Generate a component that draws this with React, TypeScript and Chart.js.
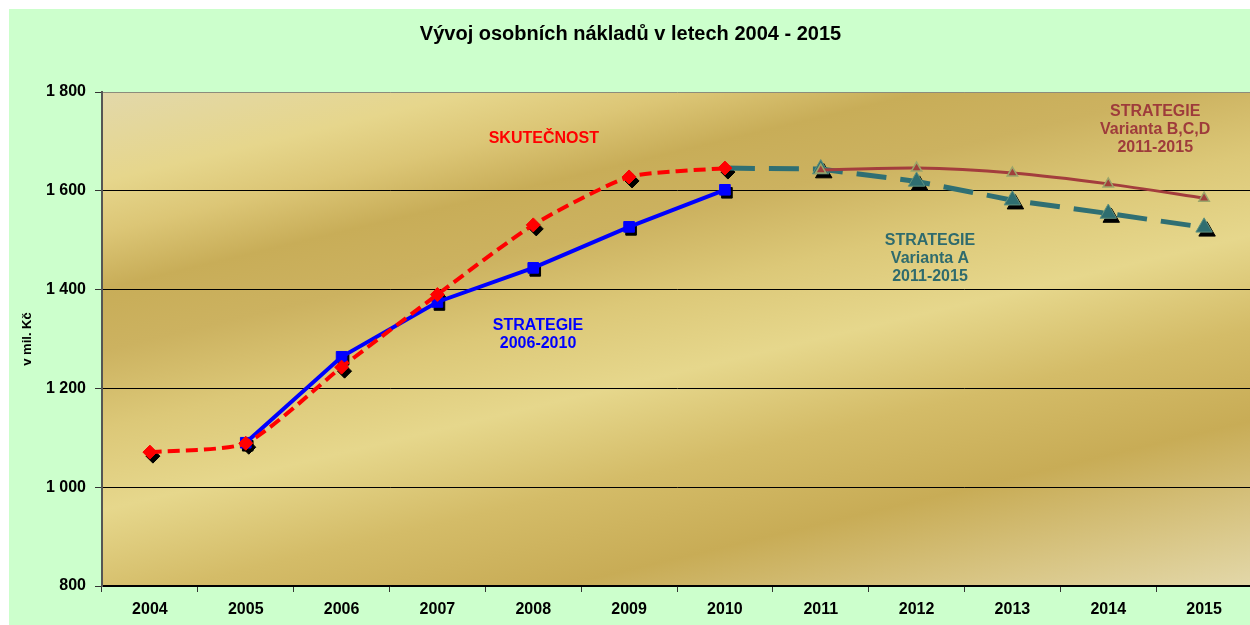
import React, { useEffect, useRef } from "react";
import { Chart, registerables } from "chart.js";

Chart.register(...registerables);

// ---- data ----
const years = ["2004", "2005", "2006", "2007", "2008", "2009", "2010", "2011", "2012", "2013", "2014", "2015"];
const skutecnost = [1071, 1089, 1243, 1390, 1531, 1628, 1646, null, null, null, null, null];
const strategie2006 = [null, 1090, 1264, 1375, 1444, 1527, 1602, null, null, null, null, null];
const variantaA = [null, null, null, null, null, null, 1646, 1644, 1619, 1581, 1554, 1526];
const variantaBCD = [null, null, null, null, null, null, null, 1642, 1646, 1636, 1614, 1585];

const yMin = 800;
const yMax = 1800;
const yStep = 200;

const titleText = "Vývoj osobních nákladů v letech 2004 - 2015";
const yTitleText = "v mil. Kč";

const labelSkut = ["SKUTEČNOST"];
const labelStrat = ["STRATEGIE", "2006-2010"];
const labelVarA = ["STRATEGIE", "Varianta A", "2011-2015"];
const labelVarBCD = ["STRATEGIE", "Varianta B,C,D", "2011-2015"];

// Varianta A continues from the last actual year without its own marker there
const variantaAJoinYear = "2010";

// ---- styling / placement (not data) ----
const FONT = "'Liberation Sans', Arial, sans-serif";
const notes = [
  { lines: labelSkut, color: "#FF0000", cx: 4.11, cy: 1705 },
  { lines: labelStrat, color: "#0000FF", cx: 4.05, cy: 1328 },
  { lines: labelVarA, color: "#2F6B6D", cx: 8.14, cy: 1500 },
  { lines: labelVarBCD, color: "#9E3B3B", cx: 10.49, cy: 1760 },
];

const fmt = (v: number) =>
  v >= 1000 ? `${Math.floor(v / 1000)} ${String(v % 1000).padStart(3, "0")}` : String(v);

const backgroundPlugin = {
  id: "bgPlot",
  beforeDraw(chart: any) {
    const { ctx, chartArea, width, height } = chart;
    ctx.save();
    ctx.fillStyle = "#CCFFCC";
    ctx.fillRect(0, 0, width, height);
    const { left, top, right, bottom } = chartArea;
    const g = ctx.createLinearGradient(left, top, left + 174.5, top + 728.8);
    g.addColorStop(0, "#E2D8AA");
    g.addColorStop(0.116, "#E6D68C");
    g.addColorStop(0.183, "#DCC676");
    g.addColorStop(0.256, "#C8AD58");
    g.addColorStop(0.336, "#CCB260");
    g.addColorStop(0.437, "#DCC878");
    g.addColorStop(0.543, "#E6D78C");
    g.addColorStop(0.664, "#D4BC68");
    g.addColorStop(0.784, "#C8AC56");
    g.addColorStop(0.904, "#D8C584");
    g.addColorStop(1, "#E3D8AA");
    ctx.fillStyle = g;
    ctx.fillRect(left, top, right - left, bottom - top);
    ctx.restore();
  },
};

const shadowPlugin = {
  id: "markerShadow",
  beforeDatasetDraw(chart: any, args: any) {
    const ds: any = chart.data.datasets[args.index];
    if (ds.shadowDx !== undefined) {
      chart.ctx.save();
      chart.ctx.translate(ds.shadowDx, ds.shadowDy);
    }
  },
  afterDatasetDraw(chart: any, args: any) {
    const ds: any = chart.data.datasets[args.index];
    if (ds.shadowDx !== undefined) chart.ctx.restore();
  },
};

const notesPlugin = {
  id: "notes",
  afterDatasetsDraw(chart: any) {
    const { ctx, scales } = chart;
    ctx.save();
    ctx.font = `bold 16px ${FONT}`;
    ctx.textAlign = "center";
    ctx.textBaseline = "middle";
    for (const n of notes) {
      const x = scales.x.getPixelForValue(n.cx);
      const y = scales.y.getPixelForValue(n.cy);
      ctx.fillStyle = n.color;
      n.lines.forEach((t, i) => ctx.fillText(t, x, y + i * 18));
    }
    ctx.restore();
  },
};

export default function App() {
  const ref = useRef<HTMLCanvasElement | null>(null);

  useEffect(() => {
    if (!ref.current) return;
    const joinIdx = years.indexOf(variantaAJoinYear);
    const radiusA = (r: number) => (c: any) => (c.dataIndex <= joinIdx ? 0 : r);

    const shadow = (data: any[], style: string, radius: any, dx: number, dy: number) => ({
      data,
      showLine: false,
      pointStyle: style,
      pointRadius: radius,
      pointBackgroundColor: "#000",
      pointBorderColor: "#000",
      pointBorderWidth: 1,
      borderColor: "#000",
      backgroundColor: "#000",
      order: 20,
      shadowDx: dx,
      shadowDy: dy,
    });

    const chart = new Chart(ref.current, {
      type: "line",
      data: {
        labels: years,
        datasets: [
          shadow(skutecnost, "rectRot", 7, 3, 4) as any,
          shadow(strategie2006, "rect", 7.5, 2, 3) as any,
          shadow(variantaA, "triangle", radiusA(9.5), 3, 4) as any,
          {
            label: "Varianta A",
            data: variantaA,
            borderColor: "#2F6F73",
            borderWidth: 5,
            borderDash: [30, 14],
            pointStyle: "triangle",
            pointRadius: radiusA(9.5),
            pointBackgroundColor: "#2F6E70",
            pointBorderColor: "#5F917E",
            pointBorderWidth: 1,
            tension: 0,
            order: 4,
          } as any,
          {
            label: "Strategie 2006-2010",
            data: strategie2006,
            borderColor: "#0000FF",
            borderWidth: 4,
            pointStyle: "rect",
            pointRadius: 7.5,
            pointBackgroundColor: "#0000FF",
            pointBorderColor: "#0000FF",
            pointBorderWidth: 1,
            tension: 0,
            order: 3,
          },
          {
            label: "Skutečnost",
            data: skutecnost,
            borderColor: "#FF0000",
            borderWidth: 4,
            borderDash: [12, 6],
            pointStyle: "rectRot",
            pointRadius: 7,
            pointBackgroundColor: "#FF0000",
            pointBorderColor: "#FF0000",
            pointBorderWidth: 1,
            tension: 0.2,
            order: 2,
          },
          {
            label: "Varianta B,C,D",
            data: variantaBCD,
            borderColor: "#A33D3D",
            borderWidth: 3,
            pointStyle: "triangle",
            pointRadius: 6,
            pointBackgroundColor: "#A0403C",
            pointBorderColor: "#9BA56A",
            pointBorderWidth: 1.5,
            tension: 0.25,
            order: 1,
          },
        ],
      },
      options: {
        responsive: false,
        animation: false,
        devicePixelRatio: 1,
        layout: { padding: { left: 0, right: 17, top: 0, bottom: 0 } },
        plugins: {
          legend: { display: false },
          tooltip: { enabled: false },
          title: {
            display: true,
            text: titleText,
            color: "#000",
            font: { family: FONT, size: 20, weight: "bold" },
            padding: { top: 13, bottom: 46 },
          },
        },
        scales: {
          x: {
            type: "category",
            offset: true,
            grid: {
              offset: true,
              drawOnChartArea: false,
              drawTicks: true,
              tickLength: 6,
              color: "#333",
            },
            border: { display: true, color: "#000", width: 1.5 },
            ticks: {
              color: "#000",
              font: { family: FONT, size: 16, weight: "bold" },
              padding: 8,
              maxRotation: 0,
              autoSkip: false,
            },
            afterFit: (s: any) => {
              s.height = 39;
            },
          },
          y: {
            min: yMin,
            max: yMax,
            ticks: {
              stepSize: yStep,
              color: "#000",
              font: { family: FONT, size: 16, weight: "bold" },
              padding: 9,
              callback: (v: any) => fmt(Number(v)),
            },
            grid: {
              color: (c: any) => (c.tick && c.tick.value === yMax ? "#8C8C7C" : "#000"),
              tickColor: "#333",
              tickLength: 7,
              lineWidth: 1,
            },
            border: { display: true, color: "#555", width: 2 },
            title: {
              display: true,
              text: yTitleText,
              color: "#000",
              font: { family: FONT, size: 13, weight: "bold" },
              padding: { top: 11, bottom: 0 },
            },
            afterFit: (s: any) => {
              s.width = 93;
            },
          },
        },
      } as any,
      plugins: [backgroundPlugin, shadowPlugin, notesPlugin],
    });
    return () => chart.destroy();
  }, []);

  return (
    <div
      style={{
        position: "absolute",
        left: 9,
        top: 9,
        width: 1241,
        height: 616,
        overflow: "hidden",
      }}
    >
      <canvas ref={ref} width={1260} height={616} style={{ display: "block" }} />
    </div>
  );
}
